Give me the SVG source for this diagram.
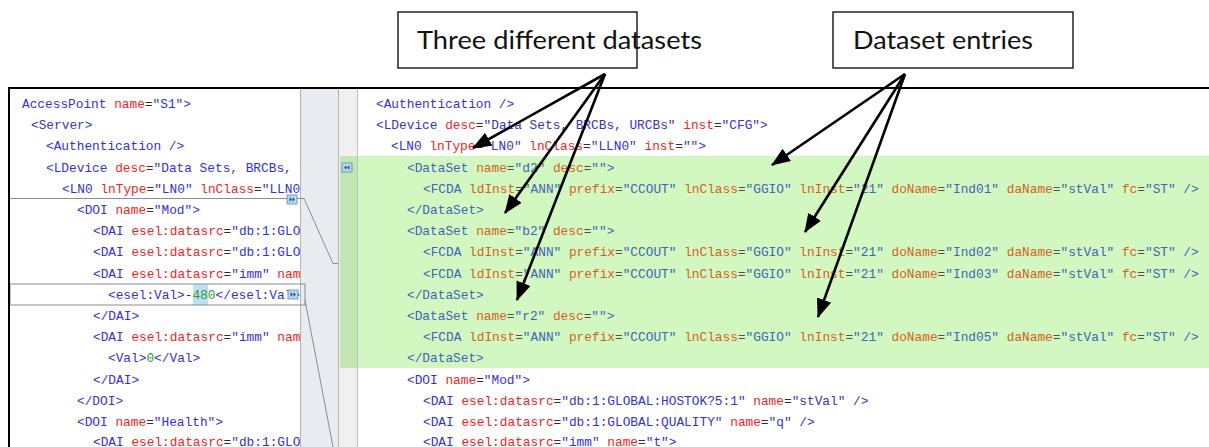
<svg xmlns="http://www.w3.org/2000/svg" width="1209" height="447" viewBox="0 0 1209 447">
  <style>
    .code { font-family: "Liberation Mono", "DejaVu Sans Mono", monospace; font-size: 12.8px; white-space: pre; }
    .t { fill: #3232d2; }
    .a { fill: #f22424; }
    .e { fill: #303030; }
    .v { fill: #3232d2; }
    .n { fill: #2e9a2e; }
    .gt { fill: #4264b6; }
    .ga { fill: #d2621f; }
    .ge { fill: #505050; }
    .gv { fill: #4264b6; }
    .callout { fill: #ffffff; stroke: #000000; stroke-width: 1.3; }
    .label { font-family: "Lato", "Liberation Sans", sans-serif; font-size: 25px; fill: #111111; }
    .arrow { stroke: #000000; stroke-width: 2.6; fill: none; marker-end: url(#head); }
    .link { stroke: #8c8c8c; stroke-width: 1; fill: none; }
  </style>
  <defs>
    <marker id="head" markerUnits="userSpaceOnUse" markerWidth="22" markerHeight="16" refX="18" refY="7.5" orient="auto">
      <path d="M0,0 L19,7.5 L0,15 Z" fill="#000000"/>
    </marker>
    <clipPath id="leftPane"><rect x="10" y="89" width="290" height="358"/></clipPath>
    <g id="fwdIcon">
      <rect x="0" y="0" width="10" height="9" fill="#bcd8ee" stroke="#5a8ab8" stroke-width="0.8"/>
      <path d="M2.5,2.2 L5,4.5 L2.5,6.8 Z M5.5,2.2 L8,4.5 L5.5,6.8 Z" fill="#2a4a8a"/>
    </g>
    <g id="backIcon">
      <rect x="0" y="0" width="10" height="9" fill="#bcd8ee" stroke="#5a8ab8" stroke-width="0.8"/>
      <path d="M7.5,2.2 L5,4.5 L7.5,6.8 Z M4.5,2.2 L2,4.5 L4.5,6.8 Z" fill="#2a4a8a"/>
    </g>
  </defs>

  <rect x="0" y="0" width="1209" height="447" fill="#ffffff"/>

  <!-- editor panes: gutter, diff highlight, change markers -->
  <g id="panes">
    <rect x="300" y="89" width="38" height="358" fill="#e8ebf0"/>
    <rect x="338" y="89" width="19" height="358" fill="#f0f0f0"/>
    <rect x="340" y="156" width="869" height="212" fill="#d2f7c0"/>
    <rect x="340" y="156" width="17" height="212" fill="#c4e6b2"/>
    <line x1="300.5" y1="89" x2="300.5" y2="447" stroke="#b4b4b4"/>
    <line x1="338.5" y1="89" x2="338.5" y2="447" stroke="#b4b4b4"/>
    <line x1="357.5" y1="89" x2="357.5" y2="447" stroke="#c0c0c0"/>
    <line x1="10" y1="198.5" x2="300" y2="198.5" stroke="#8c8c8c"/>
    <rect x="193" y="284" width="15" height="21" fill="#bfe0f2"/>
    <rect x="10" y="284" width="295" height="21" fill="none" stroke="#8c8c8c"/>
    <use href="#backIcon" x="342" y="163"/>
    <path class="link" d="M300,198.5 L304,198.5 L333,263.5 L338,263.5"/>
    <path class="link" d="M305,300 L333,447"/>
  </g>

  <!-- left pane code -->
  <g id="left-code" class="code" clip-path="url(#leftPane)">
    <text x="22" y="108"><tspan class="t">AccessPoint </tspan><tspan class="a">name</tspan><tspan class="e">=</tspan><tspan class="v">"S1"&gt;</tspan></text>
    <text x="31" y="129.2"><tspan class="t">&lt;Server&gt;</tspan></text>
    <text x="46" y="150.4"><tspan class="t">&lt;Authentication /&gt;</tspan></text>
    <text x="46" y="171.6"><tspan class="t">&lt;LDevice </tspan><tspan class="a">desc</tspan><tspan class="e">=</tspan><tspan class="v">"Data Sets, BRCBs, URCBs"</tspan></text>
    <text x="62" y="192.8"><tspan class="t">&lt;LN0 </tspan><tspan class="a">lnType</tspan><tspan class="e">=</tspan><tspan class="v">"LN0" </tspan><tspan class="a">lnClass</tspan><tspan class="e">=</tspan><tspan class="v">"LLN0"</tspan></text>
    <text x="77" y="214"><tspan class="t">&lt;DOI </tspan><tspan class="a">name</tspan><tspan class="e">=</tspan><tspan class="v">"Mod"&gt;</tspan></text>
    <text x="93" y="235.2"><tspan class="t">&lt;DAI </tspan><tspan class="a">esel:datasrc</tspan><tspan class="e">=</tspan><tspan class="v">"db:1:GLOBAL</tspan></text>
    <text x="93" y="256.4"><tspan class="t">&lt;DAI </tspan><tspan class="a">esel:datasrc</tspan><tspan class="e">=</tspan><tspan class="v">"db:1:GLOBAL</tspan></text>
    <text x="93" y="277.6"><tspan class="t">&lt;DAI </tspan><tspan class="a">esel:datasrc</tspan><tspan class="e">=</tspan><tspan class="v">"imm" </tspan><tspan class="a">name</tspan></text>
    <text x="108" y="298.8"><tspan class="t">&lt;esel:Val&gt;</tspan><tspan class="e">-</tspan><tspan class="n">480</tspan><tspan class="t">&lt;/esel:Val&gt;</tspan></text>
    <text x="93" y="320"><tspan class="t">&lt;/DAI&gt;</tspan></text>
    <text x="93" y="341.2"><tspan class="t">&lt;DAI </tspan><tspan class="a">esel:datasrc</tspan><tspan class="e">=</tspan><tspan class="v">"imm" </tspan><tspan class="a">name</tspan></text>
    <text x="108" y="362.4"><tspan class="t">&lt;Val&gt;</tspan><tspan class="n">0</tspan><tspan class="t">&lt;/Val&gt;</tspan></text>
    <text x="93" y="383.6"><tspan class="t">&lt;/DAI&gt;</tspan></text>
    <text x="77" y="404.8"><tspan class="t">&lt;/DOI&gt;</tspan></text>
    <text x="77" y="426"><tspan class="t">&lt;DOI </tspan><tspan class="a">name</tspan><tspan class="e">=</tspan><tspan class="v">"Health"&gt;</tspan></text>
    <text x="93" y="446.4"><tspan class="t">&lt;DAI </tspan><tspan class="a">esel:datasrc</tspan><tspan class="e">=</tspan><tspan class="v">"db:1:GLOBAL</tspan></text>
  </g>
  <use href="#fwdIcon" x="287" y="195"/>
  <use href="#fwdIcon" x="288" y="290"/>

  <!-- right pane code -->
  <g id="right-code" class="code">
    <text x="376" y="108"><tspan class="t">&lt;Authentication /&gt;</tspan></text>
    <text x="376" y="129.2"><tspan class="t">&lt;LDevice </tspan><tspan class="a">desc</tspan><tspan class="e">=</tspan><tspan class="v">"Data Sets, BRCBs, URCBs" </tspan><tspan class="a">inst</tspan><tspan class="e">=</tspan><tspan class="v">"CFG"&gt;</tspan></text>
    <text x="391" y="150.4"><tspan class="t">&lt;LN0 </tspan><tspan class="a">lnType</tspan><tspan class="e">=</tspan><tspan class="v">"LN0" </tspan><tspan class="a">lnClass</tspan><tspan class="e">=</tspan><tspan class="v">"LLN0" </tspan><tspan class="a">inst</tspan><tspan class="e">=</tspan><tspan class="v">""&gt;</tspan></text>
    <text x="407" y="171.6"><tspan class="gt">&lt;DataSet </tspan><tspan class="ga">name</tspan><tspan class="ge">=</tspan><tspan class="gv">"d2" </tspan><tspan class="ga">desc</tspan><tspan class="ge">=</tspan><tspan class="gv">""&gt;</tspan></text>
    <text x="423" y="192.8"><tspan class="gt">&lt;FCDA </tspan><tspan class="ga">ldInst</tspan><tspan class="ge">=</tspan><tspan class="gv">"ANN" </tspan><tspan class="ga">prefix</tspan><tspan class="ge">=</tspan><tspan class="gv">"CCOUT" </tspan><tspan class="ga">lnClass</tspan><tspan class="ge">=</tspan><tspan class="gv">"GGIO" </tspan><tspan class="ga">lnInst</tspan><tspan class="ge">=</tspan><tspan class="gv">"21" </tspan><tspan class="ga">doName</tspan><tspan class="ge">=</tspan><tspan class="gv">"Ind01" </tspan><tspan class="ga">daName</tspan><tspan class="ge">=</tspan><tspan class="gv">"stVal" </tspan><tspan class="ga">fc</tspan><tspan class="ge">=</tspan><tspan class="gv">"ST" /&gt;</tspan></text>
    <text x="407" y="214"><tspan class="gt">&lt;/DataSet&gt;</tspan></text>
    <text x="407" y="235.2"><tspan class="gt">&lt;DataSet </tspan><tspan class="ga">name</tspan><tspan class="ge">=</tspan><tspan class="gv">"b2" </tspan><tspan class="ga">desc</tspan><tspan class="ge">=</tspan><tspan class="gv">""&gt;</tspan></text>
    <text x="423" y="256.4"><tspan class="gt">&lt;FCDA </tspan><tspan class="ga">ldInst</tspan><tspan class="ge">=</tspan><tspan class="gv">"ANN" </tspan><tspan class="ga">prefix</tspan><tspan class="ge">=</tspan><tspan class="gv">"CCOUT" </tspan><tspan class="ga">lnClass</tspan><tspan class="ge">=</tspan><tspan class="gv">"GGIO" </tspan><tspan class="ga">lnInst</tspan><tspan class="ge">=</tspan><tspan class="gv">"21" </tspan><tspan class="ga">doName</tspan><tspan class="ge">=</tspan><tspan class="gv">"Ind02" </tspan><tspan class="ga">daName</tspan><tspan class="ge">=</tspan><tspan class="gv">"stVal" </tspan><tspan class="ga">fc</tspan><tspan class="ge">=</tspan><tspan class="gv">"ST" /&gt;</tspan></text>
    <text x="423" y="277.6"><tspan class="gt">&lt;FCDA </tspan><tspan class="ga">ldInst</tspan><tspan class="ge">=</tspan><tspan class="gv">"ANN" </tspan><tspan class="ga">prefix</tspan><tspan class="ge">=</tspan><tspan class="gv">"CCOUT" </tspan><tspan class="ga">lnClass</tspan><tspan class="ge">=</tspan><tspan class="gv">"GGIO" </tspan><tspan class="ga">lnInst</tspan><tspan class="ge">=</tspan><tspan class="gv">"21" </tspan><tspan class="ga">doName</tspan><tspan class="ge">=</tspan><tspan class="gv">"Ind03" </tspan><tspan class="ga">daName</tspan><tspan class="ge">=</tspan><tspan class="gv">"stVal" </tspan><tspan class="ga">fc</tspan><tspan class="ge">=</tspan><tspan class="gv">"ST" /&gt;</tspan></text>
    <text x="407" y="298.8"><tspan class="gt">&lt;/DataSet&gt;</tspan></text>
    <text x="407" y="320"><tspan class="gt">&lt;DataSet </tspan><tspan class="ga">name</tspan><tspan class="ge">=</tspan><tspan class="gv">"r2" </tspan><tspan class="ga">desc</tspan><tspan class="ge">=</tspan><tspan class="gv">""&gt;</tspan></text>
    <text x="423" y="341.2"><tspan class="gt">&lt;FCDA </tspan><tspan class="ga">ldInst</tspan><tspan class="ge">=</tspan><tspan class="gv">"ANN" </tspan><tspan class="ga">prefix</tspan><tspan class="ge">=</tspan><tspan class="gv">"CCOUT" </tspan><tspan class="ga">lnClass</tspan><tspan class="ge">=</tspan><tspan class="gv">"GGIO" </tspan><tspan class="ga">lnInst</tspan><tspan class="ge">=</tspan><tspan class="gv">"21" </tspan><tspan class="ga">doName</tspan><tspan class="ge">=</tspan><tspan class="gv">"Ind05" </tspan><tspan class="ga">daName</tspan><tspan class="ge">=</tspan><tspan class="gv">"stVal" </tspan><tspan class="ga">fc</tspan><tspan class="ge">=</tspan><tspan class="gv">"ST" /&gt;</tspan></text>
    <text x="407" y="362.4"><tspan class="gt">&lt;/DataSet&gt;</tspan></text>
    <text x="407" y="383.6"><tspan class="t">&lt;DOI </tspan><tspan class="a">name</tspan><tspan class="e">=</tspan><tspan class="v">"Mod"&gt;</tspan></text>
    <text x="423" y="404.8"><tspan class="t">&lt;DAI </tspan><tspan class="a">esel:datasrc</tspan><tspan class="e">=</tspan><tspan class="v">"db:1:GLOBAL:HOSTOK?5:1" </tspan><tspan class="a">name</tspan><tspan class="e">=</tspan><tspan class="v">"stVal" /&gt;</tspan></text>
    <text x="423" y="426"><tspan class="t">&lt;DAI </tspan><tspan class="a">esel:datasrc</tspan><tspan class="e">=</tspan><tspan class="v">"db:1:GLOBAL:QUALITY" </tspan><tspan class="a">name</tspan><tspan class="e">=</tspan><tspan class="v">"q" /&gt;</tspan></text>
    <text x="423" y="446.4"><tspan class="t">&lt;DAI </tspan><tspan class="a">esel:datasrc</tspan><tspan class="e">=</tspan><tspan class="v">"imm" </tspan><tspan class="a">name</tspan><tspan class="e">=</tspan><tspan class="v">"t"&gt;</tspan></text>
  </g>

  <!-- screenshot frame -->
  <g id="frame">
    <line x1="8" y1="88" x2="1209" y2="88" stroke="#000000" stroke-width="2"/>
    <line x1="9" y1="87" x2="9" y2="447" stroke="#000000" stroke-width="2"/>
  </g>

  <!-- callouts -->
  <g id="callout-datasets">
    <rect class="callout" x="398" y="12" width="239" height="56"/>
    <text class="label" x="417" y="49" textLength="285" lengthAdjust="spacingAndGlyphs">Three different datasets</text>
  </g>
  <g id="callout-entries">
    <rect class="callout" x="833" y="12" width="240" height="56"/>
    <text class="label" x="853" y="49" textLength="180" lengthAdjust="spacingAndGlyphs">Dataset entries</text>
  </g>

  <!-- arrows -->
  <g id="connectors">
    <line class="arrow" x1="605" y1="74" x2="473" y2="148"/>
    <line class="arrow" x1="605" y1="74" x2="505" y2="213"/>
    <line class="arrow" x1="605" y1="74" x2="517" y2="300"/>
    <line class="arrow" x1="905" y1="74" x2="772" y2="165"/>
    <line class="arrow" x1="905" y1="74" x2="805" y2="232"/>
    <line class="arrow" x1="905" y1="74" x2="818" y2="317"/>
  </g>
</svg>
